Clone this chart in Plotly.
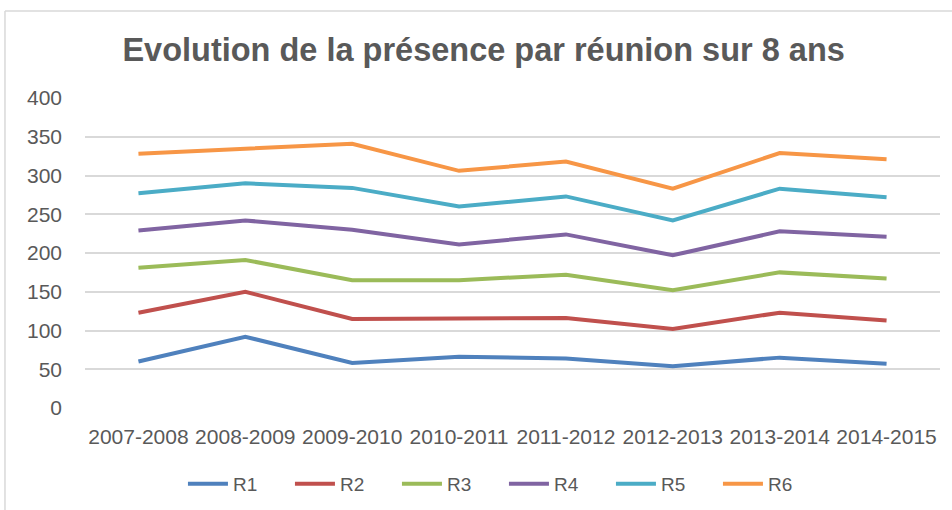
import plotly.graph_objects as go

years = ["2007-2008", "2008-2009", "2009-2010", "2010-2011", "2011-2012", "2012-2013", "2013-2014", "2014-2015"]
R1 = [60, 92, 58, 66, 64, 54, 65, 57]
R2 = [123, 150, 115, 115, 116, 102, 123, 113]
R3 = [181, 191, 165, 165, 172, 152, 175, 167]
R4 = [229, 242, 230, 211, 224, 197, 228, 221]
R5 = [277, 290, 284, 260, 273, 242, 283, 272]
R6 = [328, 335, 341, 306, 318, 283, 329, 321]
series_names = ["R1", "R2", "R3", "R4", "R5", "R6"]
series_values = [R1, R2, R3, R4, R5, R6]
colors = ["#4F81BD", "#C0504D", "#9BBB59", "#8064A2", "#4BACC6", "#F79646"]
yticks = [0, 50, 100, 150, 200, 250, 300, 350, 400]

fig = go.Figure()
for name, vals, c in zip(series_names, series_values, colors):
    fig.add_trace(go.Scatter(x=years, y=vals, name=name, mode="lines",
                             line=dict(color=c, width=4)))

fig.update_layout(
    width=952, height=510,
    paper_bgcolor="white", plot_bgcolor="white",
    margin=dict(l=85, r=12, t=98, b=102, autoexpand=False),
    title=dict(text="<b>Evolution de la présence par réunion sur 8 ans</b>",
               x=0.508, xanchor="center", y=0.902, yanchor="middle",
               font=dict(family="Liberation Sans, Arial", size=32.5, color="#595959")),
    font=dict(family="Liberation Sans, Arial", color="#595959", size=19),
    showlegend=True,
    legend=dict(orientation="h", x=0.49, xanchor="center", y=-0.245, yanchor="middle",
                font=dict(size=19, color="#595959"), entrywidth=52, entrywidthmode="pixels",
                itemwidth=40, tracegroupgap=0),
    xaxis=dict(type="category", range=[-0.5, 7.5], showgrid=False, showline=False,
               zeroline=False, ticks="", automargin=False, tickangle=0,
               tickfont=dict(size=21, color="#595959"), ticklabelstandoff=14),
    yaxis=dict(range=[0, 400], tickvals=yticks, showgrid=True, gridcolor="#D9D9D9",
               gridwidth=2, zeroline=False, showline=False, ticks="", automargin=False,
               tickfont=dict(size=21, color="#595959"), ticklabelstandoff=22),
)
fig.add_shape(type="line", xref="paper", yref="paper", x0=-0.0936, x1=1.2, y0=1.2806, y1=1.2806,
              line=dict(color="#D9D9D9", width=1.5))
fig.add_shape(type="line", xref="paper", yref="paper", x0=-0.0936, x1=-0.0936, y0=1.2806, y1=-0.33,
              line=dict(color="#D9D9D9", width=1.5))
fig.write_html("out.html", config={"displayModeBar": False},
               post_script="document.body.style.margin='0';")
